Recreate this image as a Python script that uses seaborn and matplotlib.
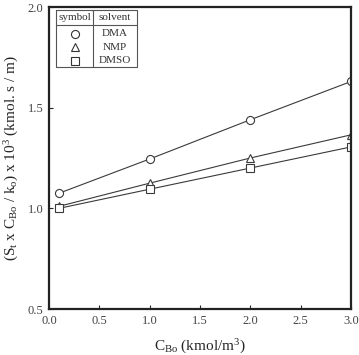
import matplotlib.pyplot as plt
import pandas as pd
import seaborn as sns

# data
c_bo = [0.1, 1.0, 2.0, 3.0]
dma = [1.075, 1.245, 1.44, 1.63]
nmp = [1.01, 1.125, 1.25, 1.365]
dmso = [1.0, 1.095, 1.20, 1.305]
solvents = ["DMA", "NMP", "DMSO"]
marker_map = {"DMA": "o", "NMP": "^", "DMSO": "s"}

df = pd.DataFrame({
    "C_Bo": c_bo * 3,
    "value": dma + nmp + dmso,
    "solvent": [s for s in solvents for _ in c_bo],
})

sns.set_style("ticks")
plt.rcParams["font.family"] = ["Liberation Serif", "DejaVu Serif"]
plt.rcParams["mathtext.fontset"] = "custom"
plt.rcParams["mathtext.rm"] = "Liberation Serif"
plt.rcParams["mathtext.it"] = "Liberation Serif:italic"

fig = plt.figure(figsize=(3.59, 3.55), dpi=100)
ax = fig.add_axes([49 / 359, 1 - 309 / 355, 302 / 359, 302 / 355])

for s in solvents:
    sub = df[df["solvent"] == s]
    sns.lineplot(data=sub, x="C_Bo", y="value", ax=ax, color="#3a3a3a",
                 marker=marker_map[s], markersize=5.8, markerfacecolor="white",
                 markeredgecolor="#3a3a3a", markeredgewidth=0.8,
                 linewidth=0.8, legend=False)

ax.set_xlim(0, 3.0)
ax.set_ylim(0.5, 2.0)
ax.set_xticks([0.0, 0.5, 1.0, 1.5, 2.0, 2.5, 3.0])
ax.set_yticks([0.5, 1.0, 1.5, 2.0])
ax.tick_params(direction="in", length=3, width=0.8, labelsize=9,
               labelcolor="#444444", pad=4)
for sp in ax.spines.values():
    sp.set_linewidth(1.6)
    sp.set_color("#222222")

ax.set_xlabel(r"C$_{\mathrm{Bo}}$ (kmol/m$^{3}$)", fontsize=11, labelpad=8)
ax.set_ylabel(r"(S$_{\mathrm{t}}$ x C$_{\mathrm{Bo}}$ / k$_{\mathrm{o}}$) x 10$^{3}$ (kmol. s / m)",
              fontsize=11, labelpad=5)

# legend table, drawn in axes coordinates
x0, x1, xm = 7 / 302, 88 / 302, 44 / 302
y0, y1, yh = 1 - 3 / 302, 1 - 60 / 302, 1 - 18 / 302
tk = dict(transform=ax.transAxes, color="#555555", linewidth=0.8, clip_on=False)
ax.plot([x0, x1, x1, x0, x0], [y0, y0, y1, y1, y0], **tk)
ax.plot([x0, x1], [yh, yh], **tk)
ax.plot([xm, xm], [y0, y1], **tk)
ax.text((x0 + xm) / 2, (y0 + yh) / 2, "symbol", transform=ax.transAxes,
        ha="center", va="center", fontsize=8, color="#333333")
ax.text((xm + x1) / 2, (y0 + yh) / 2, "solvent", transform=ax.transAxes,
        ha="center", va="center", fontsize=8, color="#333333")
for i, s in enumerate(solvents):
    yy = 1 - (26.5 + i * 13.5) / 302
    ax.plot([(x0 + xm) / 2], [yy], marker=marker_map[s], markersize=5.8,
            markerfacecolor="white", markeredgecolor="#333333",
            markeredgewidth=0.8, transform=ax.transAxes, linestyle="none")
    ax.text((xm + x1) / 2, yy, s, transform=ax.transAxes, ha="center",
            va="center", fontsize=8, color="#333333")

fig.savefig("out.png", dpi=100)
